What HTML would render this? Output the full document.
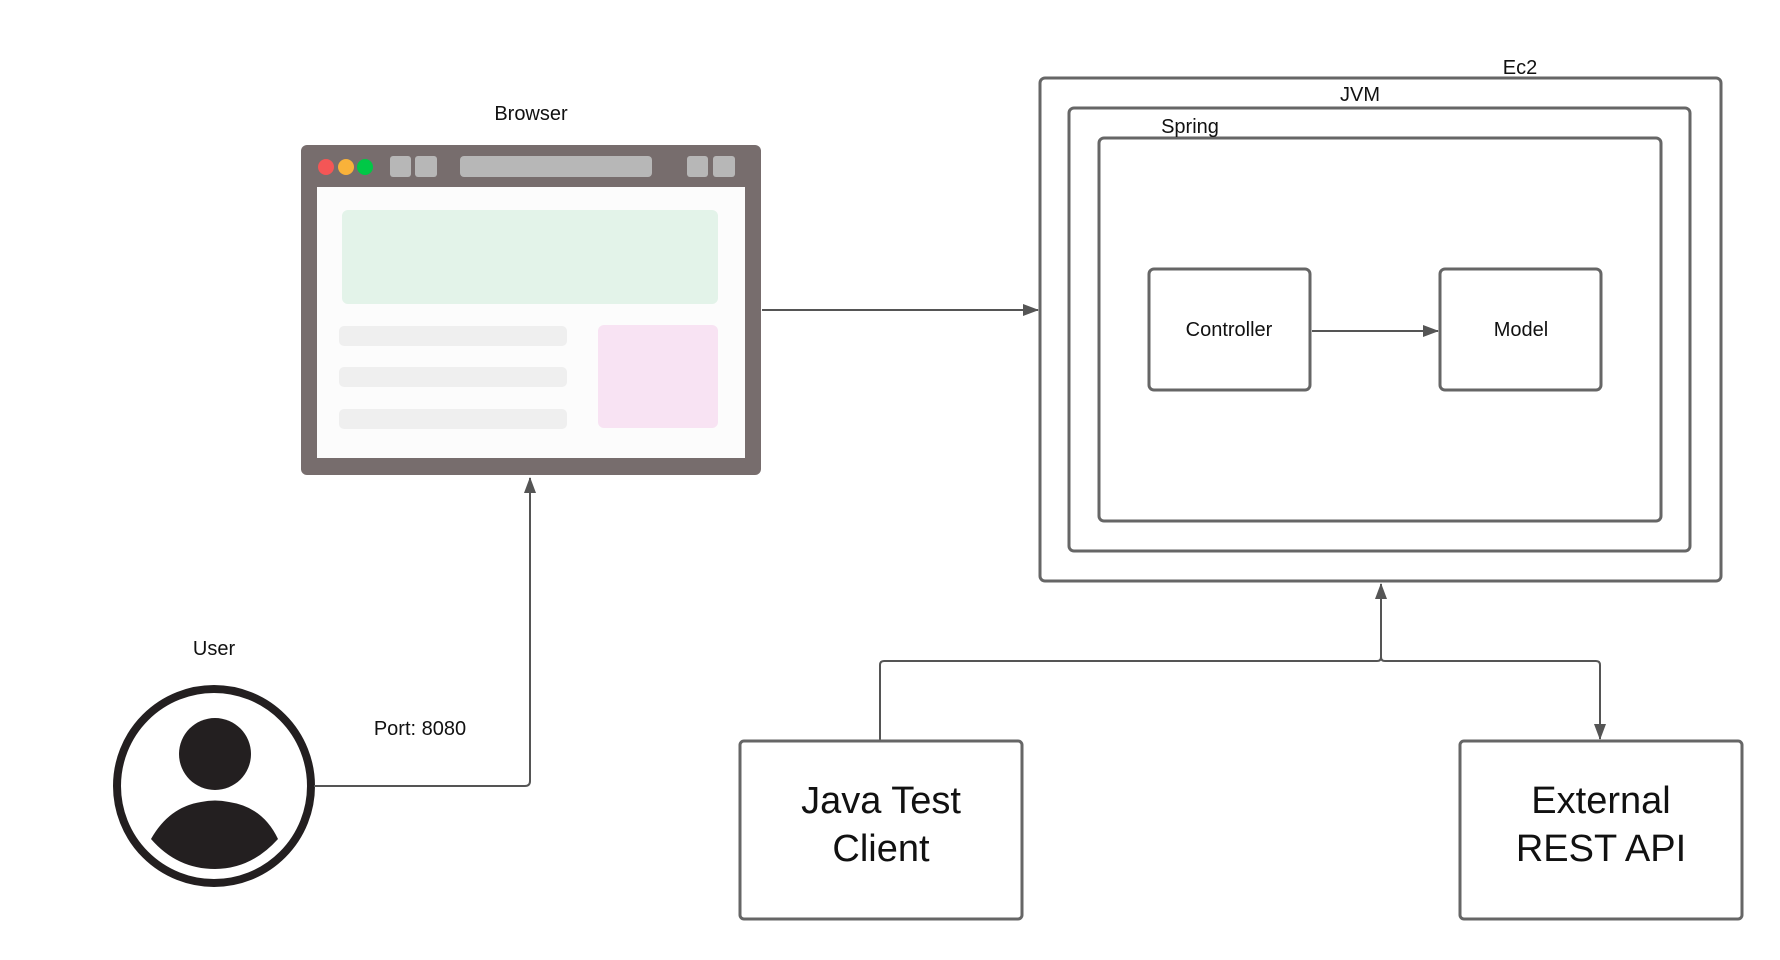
<!DOCTYPE html>
<html><head><meta charset="utf-8"><style>
html,body{margin:0;padding:0;background:#fff;}
svg{display:block;}
text{font-family:"Liberation Sans",Arial,sans-serif;fill:#111;}
</style></head><body>
<svg width="1780" height="960" viewBox="0 0 1780 960" xmlns="http://www.w3.org/2000/svg">
<defs>
<marker id="ah2" markerWidth="16" markerHeight="12" refX="15" refY="6" orient="auto" markerUnits="userSpaceOnUse">
<path d="M0,0 L16,6 L0,12 z" fill="#555"/>
</marker>
</defs>
<!-- Browser -->
<text x="531" y="120" font-size="20" text-anchor="middle">Browser</text>
<rect x="301" y="145" width="460" height="330" rx="6" fill="#776d6d"/>
<rect x="317" y="187" width="428" height="271" fill="#fcfcfc"/>
<circle cx="326" cy="167" r="8" fill="#f45656"/>
<circle cx="346" cy="167" r="8" fill="#f9b23a"/>
<circle cx="365" cy="167" r="8" fill="#00c846"/>
<rect x="390" y="156" width="21" height="21" rx="3" fill="#b7b7b7"/>
<rect x="415" y="156" width="22" height="21" rx="3" fill="#b7b7b7"/>
<rect x="460" y="156" width="192" height="21" rx="4" fill="#b7b7b7"/>
<rect x="687" y="156" width="21" height="21" rx="3" fill="#b7b7b7"/>
<rect x="713" y="156" width="22" height="21" rx="3" fill="#b7b7b7"/>
<rect x="342" y="210" width="376" height="94" rx="6" fill="#e3f3e9"/>
<rect x="339" y="326" width="228" height="20" rx="5" fill="#efefef"/>
<rect x="339" y="367" width="228" height="20" rx="5" fill="#efefef"/>
<rect x="339" y="409" width="228" height="20" rx="5" fill="#efefef"/>
<rect x="598" y="325" width="120" height="103" rx="6" fill="#f8e3f3"/>
<!-- browser -> ec2 -->
<line x1="762" y1="310" x2="1038" y2="310" stroke="#555" stroke-width="2" marker-end="url(#ah2)"/>
<!-- Ec2 / JVM / Spring -->
<rect x="1040" y="78" width="681" height="503" rx="5" fill="none" stroke="#666" stroke-width="3"/>
<text x="1520" y="74" font-size="20" text-anchor="middle">Ec2</text>
<rect x="1069" y="108" width="621" height="443" rx="5" fill="none" stroke="#666" stroke-width="3"/>
<text x="1360" y="101" font-size="20" text-anchor="middle">JVM</text>
<rect x="1099" y="138" width="562" height="383" rx="5" fill="none" stroke="#666" stroke-width="3"/>
<text x="1190" y="133" font-size="20" text-anchor="middle">Spring</text>
<rect x="1149" y="269" width="161" height="121" rx="5" fill="#fff" stroke="#666" stroke-width="3"/>
<text x="1229" y="336" font-size="20" text-anchor="middle">Controller</text>
<rect x="1440" y="269" width="161" height="121" rx="5" fill="#fff" stroke="#666" stroke-width="3"/>
<text x="1521" y="336" font-size="20" text-anchor="middle">Model</text>
<line x1="1312" y1="331" x2="1438" y2="331" stroke="#555" stroke-width="2" marker-end="url(#ah2)"/>
<!-- bottom connectors -->
<path d="M880,741 L880,665 Q880,661 884,661 L1377,661 Q1381,661 1381,657 L1381,584" fill="none" stroke="#555" stroke-width="2" marker-end="url(#ah2)"/>
<path d="M1381,657 Q1381,661 1385,661 L1596,661 Q1600,661 1600,665 L1600,739" fill="none" stroke="#555" stroke-width="2" marker-end="url(#ah2)"/>
<rect x="740" y="741" width="282" height="178" rx="4" fill="#fff" stroke="#666" stroke-width="3"/>
<text x="881" y="813" font-size="38" text-anchor="middle">Java Test</text>
<text x="881" y="861" font-size="38" text-anchor="middle">Client</text>
<rect x="1460" y="741" width="282" height="178" rx="4" fill="#fff" stroke="#666" stroke-width="3"/>
<text x="1601" y="813" font-size="38" text-anchor="middle">External</text>
<text x="1601" y="861" font-size="38" text-anchor="middle">REST API</text>
<!-- User -->
<text x="214" y="655" font-size="20" text-anchor="middle">User</text>
<circle cx="214" cy="786" r="97" fill="#fff" stroke="#231f20" stroke-width="8"/>
<circle cx="215" cy="754" r="36" fill="#231f20"/>
<path d="M151,839 Q169,807 201,802 Q215,799 229,802 Q263,807 278,839 Q251,869 215,869 Q177,869 151,839 Z" fill="#231f20"/>
<text x="420" y="735" font-size="20" text-anchor="middle">Port: 8080</text>
<path d="M314,786 L525,786 Q530,786 530,781 L530,478" fill="none" stroke="#555" stroke-width="2" marker-end="url(#ah2)"/>
</svg>
</body></html>
